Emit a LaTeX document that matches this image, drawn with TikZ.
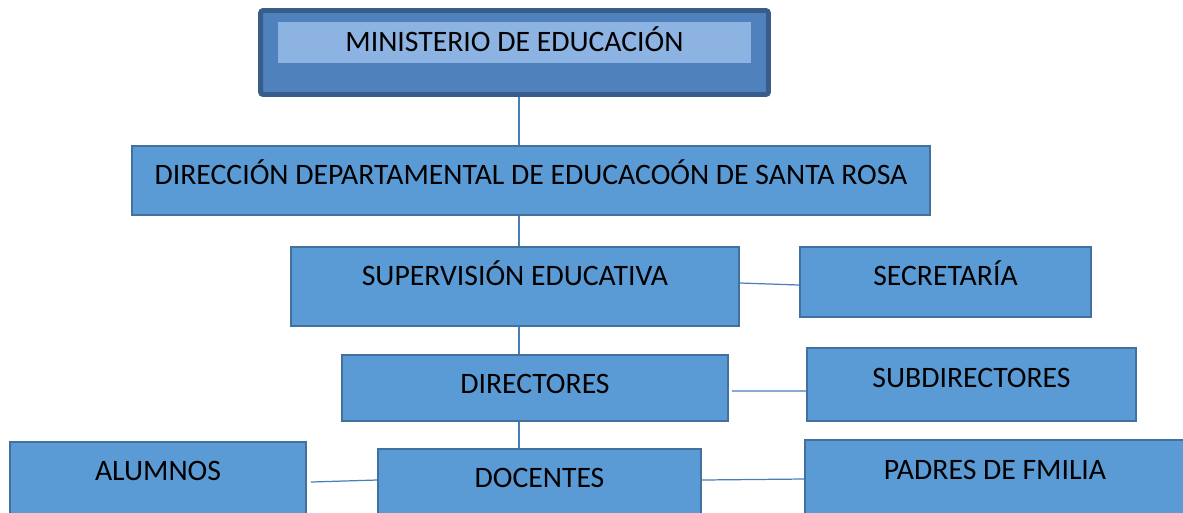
\documentclass[tikz,border=0pt]{standalone}
\usepackage{fontspec}
\setmainfont{Carlito}
\usetikzlibrary{positioning}

\definecolor{cajaazul}{HTML}{5B9BD5}
\definecolor{bordeazul}{HTML}{41719C}
\definecolor{minazul}{HTML}{4F81BD}
\definecolor{minborde}{HTML}{385D8A}
\definecolor{minclaro}{HTML}{8DB3E2}
\definecolor{lineazul}{HTML}{4A7EBB}

\begin{document}
\begin{tikzpicture}[x=0.02cm, y=-0.02cm,
        caja/.style={draw=bordeazul, fill=cajaazul, line width=1pt, inner sep=0pt},
        texto/.style={anchor=base, inner sep=0pt, font=\fontsize{16.9}{20}\selectfont},
        enlace/.style={draw=lineazul, line width=0.7pt}]
        \useasboundingbox (0,0) rectangle (1183,512);
        \coordinate (eje) at (519,0);

        % Ministerio (caja principal)
        \node[draw=minborde, fill=minazul, line width=2.8pt, rounded corners=1.5pt,
              minimum width=10.16cm, minimum height=1.68cm, inner sep=0pt] (ministerio) at (514.5,52.5) {};
        \node[fill=minclaro, minimum width=9.46cm, minimum height=0.82cm, inner sep=0pt] (franja) at (514.5,42.5) {};
        \node[texto] (t-ministerio) at ([yshift=-0.59cm]franja.north) {MINISTERIO DE EDUCACIÓN};

        % Niveles
        \node[caja, minimum width=15.96cm, minimum height=1.38cm] (direccion) at (531,180.5) {};
        \node[caja, minimum width=8.96cm, minimum height=1.58cm] (supervision) at (515,286.5) {};
        \node[caja, minimum width=5.82cm, minimum height=1.40cm] (secretaria) at (945.5,282) {};
        \node[caja, minimum width=7.72cm, minimum height=1.32cm] (directores) at (535,388) {};
        \node[caja, minimum width=6.58cm, minimum height=1.46cm] (subdirectores) at (971.5,384.5) {};
        \node[caja, minimum width=5.92cm, minimum height=1.60cm] (alumnos) at (158,482) {};
        \node[caja, minimum width=6.46cm, minimum height=1.60cm] (docentes) at (539.5,489) {};
        \node[caja, minimum width=7.60cm, minimum height=1.60cm] (padres) at (995,480) {};

        % Textos
        \node[texto] (t-direccion) at ([yshift=-0.79cm]direccion.north) {DIRECCIÓN DEPARTAMENTAL DE EDUCACOÓN DE SANTA ROSA};
        \node[texto] (t-supervision) at ([yshift=-0.79cm]supervision.north) {SUPERVISIÓN EDUCATIVA};
        \node[texto] (t-secretaria) at ([yshift=-0.79cm]secretaria.north) {SECRETARÍA};
        \node[texto] (t-directores) at ([yshift=-0.79cm]directores.north) {DIRECTORES};
        \node[texto] (t-subdirectores) at ([yshift=-0.81cm]subdirectores.north) {SUBDIRECTORES};
        \node[texto] (t-alumnos) at ([yshift=-0.79cm]alumnos.north) {ALUMNOS};
        \node[texto] (t-docentes) at ([yshift=-0.79cm]docentes.north) {DOCENTES};
        \node[texto] (t-padres) at ([yshift=-0.81cm]padres.north) {PADRES DE FMILIA};

        % Lineas verticales
        \draw[enlace] (ministerio.south -| eje) -- (direccion.north -| eje);
        \draw[enlace] (direccion.south -| eje) -- (supervision.north -| eje);
        \draw[enlace] (supervision.south -| eje) -- (directores.north -| eje);
        \draw[enlace] (directores.south -| eje) -- (docentes.north -| eje);

        % Lineas horizontales
        \draw[enlace] ([yshift=0.07cm]supervision.east) -- ([yshift=-0.06cm]secretaria.west);
        \draw[enlace] ([xshift=0.06cm,yshift=-0.06cm]directores.east) -- ([yshift=-0.13cm]subdirectores.west);
        \draw[enlace] ([xshift=0.08cm]alumnos.east) -- ([yshift=0.18cm]docentes.west);
        \draw[enlace] ([yshift=0.18cm]docentes.east) -- ([yshift=0.02cm]padres.west);
    \end{tikzpicture}
\end{document}
